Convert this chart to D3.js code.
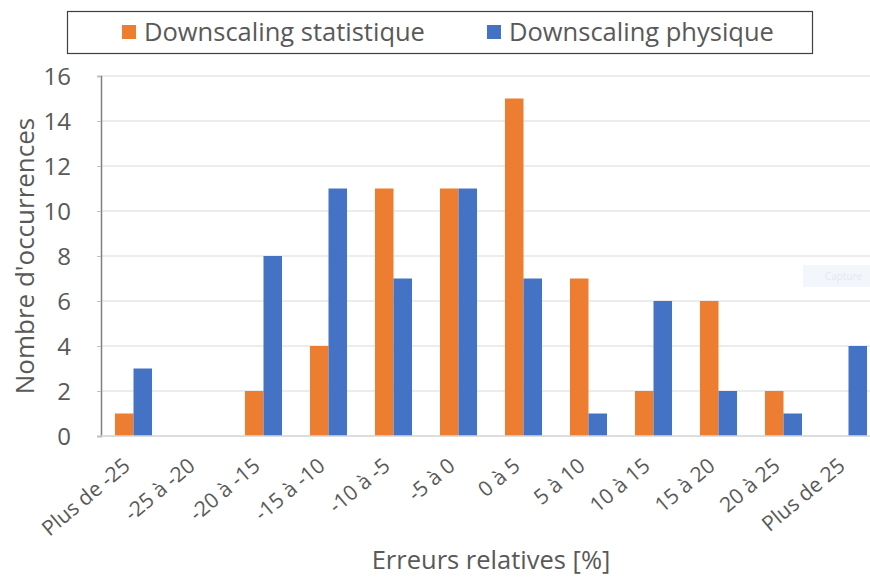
<!DOCTYPE html>
<html>
<head>
<meta charset="utf-8">
<script src="https://cdn.jsdelivr.net/npm/d3@7"></script>
<style>
  html, body { margin: 0; padding: 0; background: #fff; }
  svg { display: block; font-family: "Open Sans", sans-serif; }
</style>
</head>
<body>
<svg id="chart" width="870" height="577"></svg>
<script>
// Error classes (relative error, %)
const categories = ["Plus de -25", "-25 à -20", "-20 à -15", "-15 à -10", "-10 à -5", "-5 à 0",
                    "0 à 5", "5 à 10", "10 à 15", "15 à 20", "20 à 25", "Plus de 25"];
// Number of occurrences per class
const statistique = [1, 0, 2, 4, 11, 11, 15, 7, 2, 6, 2, 0];
const physique    = [3, 0, 8, 11, 7, 11, 7, 1, 6, 2, 1, 4];
const seriesNames = ["Downscaling statistique", "Downscaling physique"];
const yTicks = [0, 2, 4, 6, 8, 10, 12, 14, 16];

const colors = ["#ED7D31", "#4472C4"];
const textColor = "#595959";
const font = "'Open Sans', sans-serif";

const svg = d3.select("#chart");
const plot = { left: 101, right: 881, top: 76, bottom: 436 };

const x = d3.scaleBand().domain(categories).range([plot.left, plot.right]).paddingInner(0.43).paddingOuter(0.215);
const xs = d3.scaleBand().domain([0, 1]).range([0, x.bandwidth()]);
const y = d3.scaleLinear().domain([0, 16]).range([plot.bottom, plot.top]);

// Horizontal gridlines
svg.append("g")
  .selectAll("line")
  .data(yTicks)
  .join("line")
  .attr("x1", plot.left).attr("x2", plot.right)
  .attr("y1", d => y(d)).attr("y2", d => y(d))
  .attr("stroke", "#d9d9d9").attr("stroke-width", 1);

// Y axis
const yAxis = svg.append("g")
  .attr("transform", `translate(${plot.left},0)`)
  .call(d3.axisLeft(y).tickValues(yTicks).tickSize(4).tickPadding(26));
yAxis.select(".domain").attr("stroke", "#808080").attr("stroke-width", 1.5);
yAxis.selectAll(".tick line").attr("stroke", "#bfbfbf");
yAxis.selectAll(".tick text")
  .attr("fill", textColor)
  .attr("dy", "0.36em")
  .style("font-size", "24px")
  .style("font-family", font);

// Bars
const groups = svg.append("g")
  .selectAll("g")
  .data(categories.map((c, i) => ({ c, vals: [statistique[i], physique[i]] })))
  .join("g")
  .attr("transform", d => `translate(${x(d.c)},0)`);
groups.selectAll("rect")
  .data(d => d.vals.map((v, k) => ({ v, k })))
  .join("rect")
  .attr("x", d => xs(d.k))
  .attr("width", xs.bandwidth())
  .attr("y", d => y(d.v))
  .attr("height", d => y(0) - y(d.v))
  .attr("fill", d => colors[d.k]);

// X baseline
svg.append("line")
  .attr("x1", plot.left).attr("x2", plot.right)
  .attr("y1", y(0)).attr("y2", y(0))
  .attr("stroke", "#d9d9d9").attr("stroke-width", 1.5);

// X axis labels (rotated)
const xAxis = svg.append("g")
  .attr("transform", `translate(0,${plot.bottom})`)
  .call(d3.axisBottom(x).tickSize(0).tickPadding(0));
xAxis.select(".domain").remove();
xAxis.selectAll(".tick text")
  .attr("fill", textColor)
  .style("font-size", "21px")
  .style("font-family", font)
  .attr("text-anchor", "end")
  .attr("y", 0)
  .attr("dy", 0)
  .attr("transform", "translate(-2,32) rotate(-40)");

// Axis titles
svg.append("text")
  .attr("transform", `translate(24,${(plot.top + plot.bottom) / 2}) rotate(-90)`)
  .attr("text-anchor", "middle")
  .attr("dominant-baseline", "central")
  .attr("fill", textColor)
  .style("font-size", "26px")
  .text("Nombre d'occurrences");

svg.append("text")
  .attr("x", 491).attr("y", 569)
  .attr("text-anchor", "middle")
  .attr("fill", textColor)
  .style("font-size", "25.5px")
  .text("Erreurs relatives [%]");

// Legend
const legend = svg.append("g");
legend.append("rect")
  .attr("x", 67.5).attr("y", 11.5).attr("width", 745).attr("height", 42)
  .attr("fill", "#fff").attr("stroke", "#404040").attr("stroke-width", 1.2);
const legendX = [122, 487];
seriesNames.forEach((name, k) => {
  legend.append("rect")
    .attr("x", legendX[k]).attr("y", 25).attr("width", 14).attr("height", 14)
    .attr("fill", colors[k]);
  legend.append("text")
    .attr("x", legendX[k] + 22).attr("y", 41)
    .attr("fill", textColor)
    .style("font-size", "25.5px")
    .text(name);
});

// Faint overlay tag at the right edge
svg.append("rect")
  .attr("x", 803).attr("y", 265).attr("width", 67).attr("height", 22)
  .attr("fill", "#f3f7fc");
svg.append("text")
  .attr("x", 825).attr("y", 280)
  .attr("fill", "#e3e8ef")
  .style("font-size", "10px")
  .text("Capture");
</script>
</body>
</html>
